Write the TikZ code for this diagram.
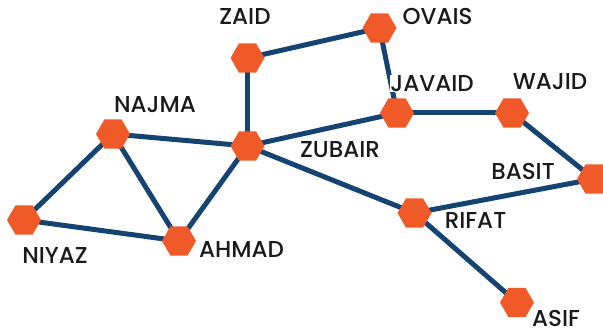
\documentclass[tikz,border=0pt]{standalone}
\usepackage{fontspec}
\setmainfont{Poppins}[UprightFont=* Medium]
\usetikzlibrary{shapes.geometric,backgrounds}
\definecolor{hexorange}{HTML}{F05A28}
\definecolor{edgenavy}{HTML}{164472}
\definecolor{labelink}{HTML}{1A1A1A}
\begin{document}
\begin{tikzpicture}[x=1pt,y=-1pt,
  person/.style={regular polygon, regular polygon sides=6, minimum size=34pt,
    inner sep=0pt, fill=hexorange},
  personlabel/.style={font=\fontsize{23}{23}\selectfont, text=labelink, fill=white,
    inner sep=0.5pt},
  link/.style={draw=edgenavy, line width=5pt}]
\clip (0,0) rectangle (603,334);
\useasboundingbox (0,0) rectangle (603,334);

% people
\node[person] (zaid)   at (247.5,58)  {};
\node[person] (ovais)  at (379.5,28)  {};
\node[person] (javaid) at (397,113)   {};
\node[person] (wajid)  at (512,113)   {};
\node[person] (najma)  at (113,134)   {};
\node[person] (zubair) at (247.5,146) {};
\node[person] (basit)  at (594,179)   {};
\node[person] (rifat)  at (414.5,213) {};
\node[person] (niyaz)  at (24,220)    {};
\node[person] (ahmad)  at (179,241)   {};
\node[person] (asif)   at (517,302.5) {};

% connections
\begin{scope}[on background layer]
\draw[link] (zaid.center) -- (ovais.center);
\draw[link] (zaid.center) -- (zubair.center);
\draw[link] (ovais.center) -- (javaid.center);
\draw[link] (zubair.center) -- (javaid.center);
\draw[link] (javaid.center) -- (wajid.center);
\draw[link] (wajid.center) -- (basit.center);
\draw[link] (basit.center) -- (rifat.center);
\draw[link] (zubair.center) -- (rifat.center);
\draw[link] (rifat.center) -- (asif.center);
\draw[link] (zubair.center) -- (najma.center);
\draw[link] (zubair.center) -- (ahmad.center);
\draw[link] (najma.center) -- (niyaz.center);
\draw[link] (najma.center) -- (ahmad.center);
\draw[link] (niyaz.center) -- (ahmad.center);
\end{scope}

% names
\node[personlabel] (lzaid)   at (245,16.5)  {ZAID};
\node[personlabel] (lovais)  at (437.5,16.5){OVAIS};
\node[personlabel] (ljavaid) at (432,83.5)  {JAVAID};
\node[personlabel] (lwajid)  at (550,81.5)  {WAJID};
\node[personlabel] (lnajma)  at (155,105)   {NAJMA};
\node[personlabel] (lzubair) at (340,150)   {ZUBAIR};
\node[personlabel] (lbasit)  at (523,171)   {BASIT};
\node[personlabel] (lrifat)  at (475.5,220) {RIFAT};
\node[personlabel] (lniyaz)  at (55,255)    {NIYAZ};
\node[personlabel] (lahmad)  at (241.5,249) {AHMAD};
\node[personlabel] (lasif)   at (556,318.5) {ASIF};
\end{tikzpicture}
\end{document}
